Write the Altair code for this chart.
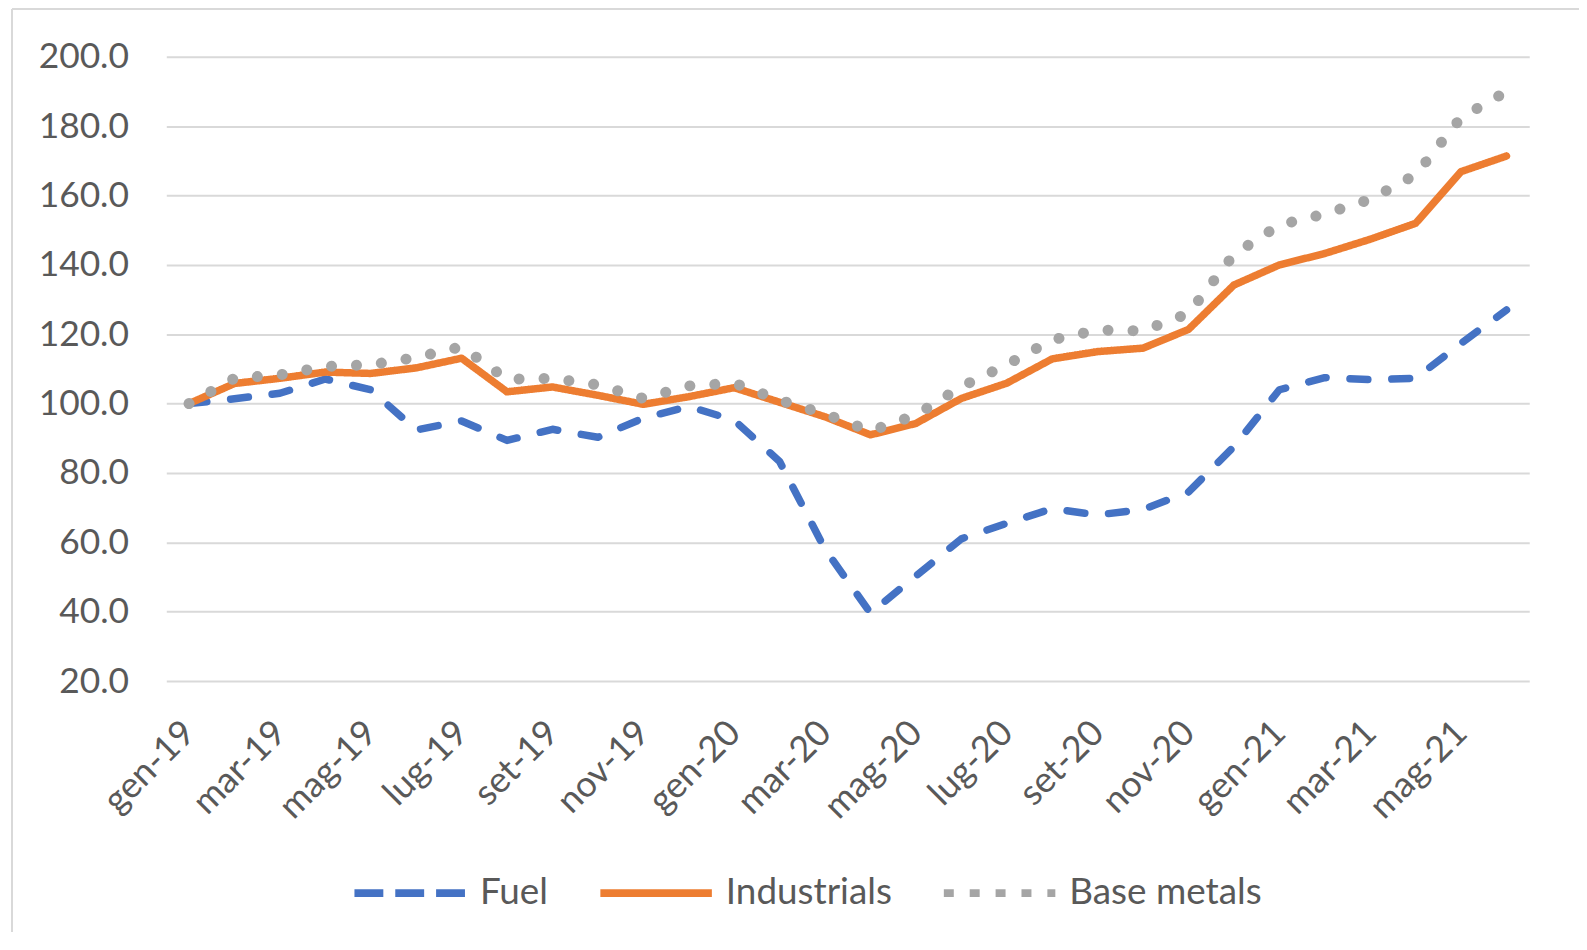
import altair as alt
import pandas as pd

# ---- data -------------------------------------------------------------
months = [
    "gen-19", "feb-19", "mar-19", "apr-19", "mag-19", "giu-19",
    "lug-19", "ago-19", "set-19", "ott-19", "nov-19", "dic-19",
    "gen-20", "feb-20", "mar-20", "apr-20", "mag-20", "giu-20",
    "lug-20", "ago-20", "set-20", "ott-20", "nov-20", "dic-20",
    "gen-21", "feb-21", "mar-21", "apr-21", "mag-21", "giu-21",
]
fuel = [
    100.0, 101.4, 103.0, 107.1, 104.0, 92.4, 95.0, 89.4, 92.6, 90.3,
    95.8, 99.2, 95.2, 83.3, 58.0, 39.6, 50.3, 61.0, 65.5, 69.7,
    67.9, 69.5, 74.5, 87.6, 104.0, 107.5, 106.9, 107.3, 117.4, 127.0,
]
industrials = [
    100.0, 105.8, 107.3, 109.1, 108.7, 110.3, 113.1, 103.4, 104.8, 102.4,
    99.8, 102.0, 104.6, 100.4, 96.2, 91.0, 94.3, 101.5, 105.9, 112.9,
    115.0, 116.0, 121.4, 134.2, 140.0, 143.3, 147.4, 152.0, 166.9, 171.4,
]
base_metals = [
    100.0, 107.3, 108.3, 110.7, 111.2, 113.3, 116.4, 107.0, 107.3, 105.4,
    101.5, 105.1, 105.9, 101.0, 97.0, 92.1, 96.7, 104.9, 111.2, 118.4,
    121.2, 121.0, 126.0, 143.0, 151.5, 154.7, 158.9, 166.0, 182.5, 190.0,
]
series_names = ["Fuel", "Industrials", "Base metals"]
series_colors = ["#4472C4", "#ED7D31", "#A5A5A5"]
y_ticks = [20, 40, 60, 80, 100, 120, 140, 160, 180, 200]
x_tick_labels = months[::2]

rows = []
for name, vals in zip(series_names, [fuel, industrials, base_metals]):
    for m, v in zip(months, vals):
        rows.append({"month": m, "series": name, "value": v})
df = pd.DataFrame(rows)

# ---- styling ----------------------------------------------------------
FONT = "Lato"
TXT = "#595959"
GRID = "#D9D9D9"
W, H = 1369, 627

x_enc = alt.X(
    "month:N",
    sort=months,
    scale=alt.Scale(type="point", padding=0.5),
    axis=alt.Axis(
        values=x_tick_labels,
        labelAngle=-45,
        labelAlign="right",
        labelBaseline="middle",
        labelPadding=46,
        labelFontSize=36,
        labelFont=FONT,
        labelColor=TXT,
        ticks=False,
        domain=False,
        grid=False,
        title=None,
        labelOverlap=False,
    ),
)
y_enc = alt.Y(
    "value:Q",
    scale=alt.Scale(domain=[20, 200], nice=False, zero=False),
    axis=alt.Axis(
        values=y_ticks,
        format=".1f",
        labelFontSize=35.5,
        labelFont=FONT,
        labelColor=TXT,
        labelPadding=38,
        ticks=False,
        domain=False,
        gridColor=GRID,
        gridWidth=2,
        title=None,
    ),
)

color_main = alt.Color(
    "series:N",
    sort=series_names,
    scale=alt.Scale(domain=series_names, range=series_colors),
    legend=None,
)
dash_main = alt.StrokeDash(
    "series:N",
    sort=series_names,
    scale=alt.Scale(domain=series_names, range=[[18, 24], [1, 0], [0.1, 25]]),
    legend=None,
)

base = alt.Chart(df)

main_lines = base.transform_filter(
    alt.datum.series != "Base metals"
).mark_line(strokeWidth=7.5, strokeCap="round", strokeJoin="round").encode(
    x=x_enc, y=y_enc, color=color_main, strokeDash=dash_main
)

dotted = base.transform_filter(
    alt.datum.series == "Base metals"
).mark_line(strokeWidth=11, strokeCap="round", strokeJoin="round").encode(
    x=x_enc, y=y_enc, color=color_main, strokeDash=dash_main
)

legend = alt.Legend(
    orient="none",
    legendX=185,
    legendY=780,
    direction="horizontal",
    title=None,
    symbolType="stroke",
    symbolSize=12544,
    symbolStrokeWidth=8,
    symbolOpacity=1,
    labelFontSize=37,
    labelFont=FONT,
    labelColor=TXT,
    labelOffset=10,
    columnPadding=36,
    padding=0,
    labelLimit=0,
)

legend_layer = base.mark_line(opacity=0).encode(
    x=x_enc,
    y=y_enc,
    color=alt.Color(
        "series:N",
        sort=series_names,
        scale=alt.Scale(domain=series_names, range=series_colors),
        legend=legend,
    ),
    strokeDash=alt.StrokeDash(
        "series:N",
        sort=series_names,
        scale=alt.Scale(domain=series_names, range=[[29, 12], [1, 0], [10, 16]]),
        legend=legend,
    ),
)

frame_df = pd.DataFrame({"k": [0]})
frame_left = alt.Chart(frame_df).mark_rule(color="#D9D9D9", strokeWidth=2).encode(
    x=alt.value(-155), y=alt.value(-48), y2=alt.value(H + 260)
)
frame_top = alt.Chart(frame_df).mark_rule(color="#D9D9D9", strokeWidth=2).encode(
    x=alt.value(-155), x2=alt.value(W + 60), y=alt.value(-48)
)

chart = (
    alt.layer(frame_left, frame_top, legend_layer, main_lines, dotted)
    .resolve_scale(color="independent", strokeDash="independent")
    .properties(
        width=W,
        height=H,
        autosize=alt.AutoSizeParams(type="none"),
        padding={"left": 159, "top": 47, "right": 50, "bottom": 250},
        background="white",
    )
    .configure_view(stroke=None)
)

chart.save("out.html", embed_options={"renderer": "svg", "actions": False})
